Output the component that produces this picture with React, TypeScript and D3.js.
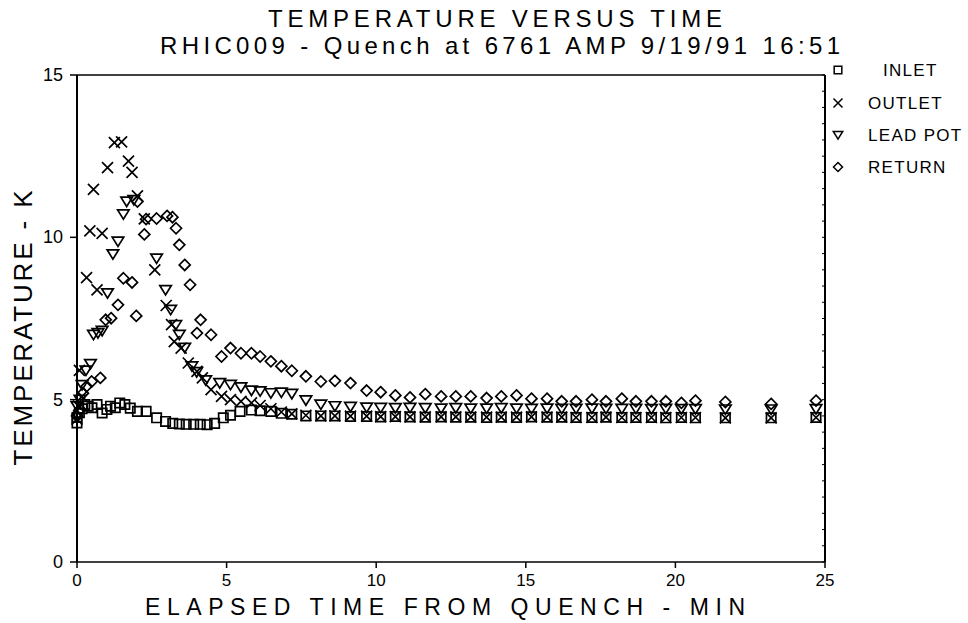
import React from "react";
import * as d3 from "d3";

// ---------- data (time in minutes, temperature in K) ----------
const inletTime = [0.0, 0.0, 0.08, 0.17, 0.26, 0.37, 0.5, 0.67, 0.84, 1.0, 1.12, 1.28, 1.43, 1.6, 1.78, 2.02, 2.31, 2.66, 2.96, 3.2, 3.42, 3.65, 3.9, 4.12, 4.35, 4.6, 4.89, 5.13, 5.45,
  5.83, 6.12, 6.48, 6.83, 7.18, 7.65, 8.15, 8.62, 9.14, 9.68, 10.15, 10.64, 11.13, 11.64, 12.17, 12.66, 13.16, 13.69, 14.18, 14.69, 15.19, 15.71, 16.2, 16.68, 17.21, 17.68, 18.21, 18.68, 19.2, 19.68, 20.2, 20.67, 21.67, 23.2, 24.7];
const inletTemp = [4.28, 4.45, 4.6, 4.72, 4.85, 4.8, 4.75, 4.85, 4.59, 4.7, 4.8, 4.75, 4.9, 4.85, 4.74, 4.64, 4.64, 4.44, 4.33, 4.27, 4.25, 4.24, 4.24, 4.24, 4.23, 4.27, 4.44, 4.52, 4.64,
  4.68, 4.66, 4.64, 4.58, 4.55, 4.5, 4.5, 4.5, 4.48, 4.48, 4.47, 4.48, 4.47, 4.46, 4.47, 4.46, 4.46, 4.45, 4.46, 4.45, 4.47, 4.46, 4.46, 4.45, 4.45, 4.46, 4.45, 4.45, 4.45, 4.44, 4.45, 4.44, 4.44, 4.44, 4.45];

const outletTime = [0.0, 0.05, 0.08, 0.17, 0.32, 0.43, 0.55, 0.67, 0.84, 1.02, 1.25, 1.49, 1.72, 1.84, 2.02, 2.25, 2.6, 2.98, 3.16, 3.25, 3.48, 3.72, 4.01, 4.19, 4.48, 4.83, 5.13, 5.48,
  5.83, 6.12, 6.48, 6.83, 7.18, 7.65, 8.15, 8.62, 9.14, 9.68, 10.15, 10.64, 11.13, 11.64, 12.17, 12.66, 13.16, 13.69, 14.18, 14.69, 15.19, 15.71, 16.2, 16.68, 17.21, 17.68, 18.21, 18.68, 19.2, 19.68, 20.2, 20.67, 21.67, 23.2, 24.7];
const outletTemp = [4.4, 4.8, 5.9, 5.1, 8.76, 10.2, 11.48, 8.38, 10.12, 12.15, 12.92, 12.94, 12.35, 12.0, 11.28, 10.57, 9.0, 7.9, 7.31, 6.79, 6.59, 6.13, 5.87, 5.67, 5.31, 5.1, 5.0, 4.95,
  4.9, 4.82, 4.72, 4.62, 4.56, 4.52, 4.5, 4.5, 4.49, 4.49, 4.48, 4.48, 4.47, 4.47, 4.47, 4.47, 4.46, 4.46, 4.46, 4.46, 4.47, 4.46, 4.46, 4.45, 4.45, 4.46, 4.45, 4.45, 4.45, 4.45, 4.45, 4.45, 4.44, 4.44, 4.45];

const leadTime = [0.0, 0.1, 0.17, 0.3, 0.45, 0.55, 0.7, 0.84, 1.02, 1.2, 1.37, 1.55, 1.66, 1.9, 2.66, 2.96, 3.13, 3.3, 3.42, 3.6, 3.84, 4.0, 4.3, 4.77, 5.13, 5.48,
  5.83, 6.12, 6.48, 6.83, 7.18, 7.65, 8.15, 8.62, 9.14, 9.68, 10.15, 10.64, 11.13, 11.64, 12.17, 12.66, 13.16, 13.69, 14.18, 14.69, 15.19, 15.71, 16.2, 16.68, 17.21, 17.68, 18.21, 18.68, 19.2, 19.68, 20.2, 20.67, 21.67, 23.2, 24.7];
const leadTemp = [4.8, 5.0, 5.45, 5.9, 6.1, 7.0, 7.05, 7.12, 8.28, 9.48, 9.87, 10.71, 11.1, 11.15, 9.35, 8.38, 7.77, 7.3, 7.0, 6.6, 6.03, 5.85, 5.6, 5.51, 5.46, 5.38,
  5.28, 5.26, 5.2, 5.22, 5.18, 4.98, 4.85, 4.8, 4.78, 4.76, 4.75, 4.74, 4.75, 4.74, 4.73, 4.74, 4.73, 4.73, 4.74, 4.73, 4.72, 4.73, 4.72, 4.72, 4.73, 4.72, 4.72, 4.72, 4.71, 4.72, 4.71, 4.71, 4.7, 4.7, 4.71];

const returnTime = [0.0, 0.1, 0.2, 0.32, 0.49, 0.78, 0.96, 1.14, 1.37, 1.55, 1.84, 1.98, 2.02, 2.25, 2.31, 2.66, 3.01, 3.19, 3.31, 3.42, 3.6, 3.78, 4.01, 4.13, 4.48, 4.83, 5.13, 5.48,
  5.83, 6.12, 6.48, 6.83, 7.18, 7.65, 8.15, 8.62, 9.14, 9.68, 10.15, 10.64, 11.13, 11.64, 12.17, 12.66, 13.16, 13.69, 14.18, 14.69, 15.19, 15.71, 16.2, 16.68, 17.21, 17.68, 18.21, 18.68, 19.2, 19.68, 20.2, 20.67, 21.67, 23.2, 24.7];
const returnTemp = [4.5, 4.7, 5.2, 5.41, 5.56, 5.67, 7.46, 7.51, 7.92, 8.74, 8.61, 7.58, 11.1, 10.09, 10.56, 10.58, 10.66, 10.62, 10.28, 9.77, 9.15, 8.54, 7.05, 7.46, 7.0, 6.33, 6.59, 6.43,
  6.43, 6.33, 6.18, 6.03, 5.89, 5.72, 5.56, 5.58, 5.51, 5.28, 5.23, 5.13, 5.07, 5.17, 5.1, 5.1, 5.1, 5.05, 5.1, 5.13, 5.03, 5.03, 4.95, 4.95, 5.0, 4.95, 5.03, 4.95, 4.95, 4.95, 4.9, 4.97, 4.93, 4.87, 4.97];

const xTicks = [0, 5, 10, 15, 20, 25];
const yTicks = [0, 5, 10, 15];
const legendLabels = ["INLET", "OUTLET", "LEAD POT", "RETURN"];

const titleText = "TEMPERATURE VERSUS TIME";
const subtitleText = "RHIC009 - Quench at 6761 AMP 9/19/91 16:51";
const xTitle = "ELAPSED TIME FROM QUENCH - MIN";
const yTitle = "TEMPERATURE - K";

// ---------- layout ----------
const W = 968;
const H = 623;
const left = 77, right = 825, top = 75, bottom = 562;
const FONT = "'Liberation Sans', Arial, sans-serif";

type Shape = "square" | "x" | "tri" | "diamond";

function markerPath(shape: Shape, s: number): string {
  const h = s / 2;
  switch (shape) {
    case "square":
      return `M${-h * 0.85},${-h * 0.85}H${h * 0.85}V${h * 0.85}H${-h * 0.85}Z`;
    case "x":
      return `M${-h},${-h}L${h},${h}M${-h},${h}L${h},${-h}`;
    case "tri":
      return `M${-h * 1.05},${-h * 0.8}H${h * 1.05}L0,${h * 0.9}Z`;
    case "diamond":
      return `M0,${-h}L${h},0L0,${h}L${-h},0Z`;
  }
}

export default function App() {
  const x = d3.scaleLinear().domain([0, 25]).range([left, right]);
  const y = d3.scaleLinear().domain([0, 15]).range([bottom, top]);

  const series: { shape: Shape; t: number[]; v: number[] }[] = [
    { shape: "square", t: inletTime, v: inletTemp },
    { shape: "x", t: outletTime, v: outletTemp },
    { shape: "tri", t: leadTime, v: leadTemp },
    { shape: "diamond", t: returnTime, v: returnTemp },
  ];
  const shapes: Shape[] = ["square", "x", "tri", "diamond"];
  const legendY = [70, 103, 135, 167];
  const legendX = [883, 868, 868, 868];

  const minorY = d3.range(0, 15.01, 0.5);

  return (
    <svg width={W} height={H} style={{ display: "block", position: "absolute", left: 0, top: 0, background: "#fff" }}>
      <rect x={0} y={0} width={W} height={H} fill="#fff" />
      {/* titles */}
      <text x={495} y={27} textAnchor="middle" fontFamily={FONT} fontSize={24} textLength={454} lengthAdjust="spacing">{titleText}</text>
      <text x={500} y={54} textAnchor="middle" fontFamily={FONT} fontSize={24} textLength={680} lengthAdjust="spacing">{subtitleText}</text>

      {/* frame */}
      <g stroke="#000" fill="none">
        <line x1={left} y1={top} x2={left} y2={bottom} strokeWidth={2} />
        <line x1={right} y1={top} x2={right} y2={bottom} strokeWidth={2} />
        <line x1={left} y1={top} x2={right} y2={top} strokeWidth={1.3} />
        <line x1={left} y1={bottom} x2={right} y2={bottom} strokeWidth={1.3} />
        {yTicks.map((v) => (
          <line key={"yt" + v} x1={left - 7} x2={left} y1={y(v)} y2={y(v)} strokeWidth={1.5} />
        ))}
        {xTicks.map((v) => (
          <line key={"xt" + v} x1={x(v)} x2={x(v)} y1={bottom} y2={bottom + 6} strokeWidth={1.5} />
        ))}
        {minorY.map((v) => (
          <line key={"my" + v} x1={right - 3} x2={right} y1={y(v)} y2={y(v)} strokeWidth={1} />
        ))}
      </g>

      {/* tick labels */}
      {yTicks.map((v) => (
        <text key={"yl" + v} x={63} y={y(v) + 6} textAnchor="end" fontFamily={FONT} fontSize={18}>{v}</text>
      ))}
      {xTicks.map((v) => (
        <text key={"xl" + v} x={x(v)} y={586} textAnchor="middle" fontFamily={FONT} fontSize={17}>{v}</text>
      ))}

      {/* axis titles */}
      <text x={445} y={615} textAnchor="middle" fontFamily={FONT} fontSize={23} textLength={600} lengthAdjust="spacing">{xTitle}</text>
      <text transform={`translate(32,328) rotate(-90)`} textAnchor="middle" fontFamily={FONT} fontSize={26} textLength={275} lengthAdjust="spacing">{yTitle}</text>

      {/* data markers */}
      <g stroke="#000" strokeWidth={1.7} fill="none">
        {series.map((s, si) =>
          s.t.map((t, i) => (
            <path key={si + "-" + i} d={markerPath(s.shape, 11)} transform={`translate(${x(t)},${y(s.v[i])})`} />
          ))
        )}
      </g>

      {/* legend */}
      {legendLabels.map((lab, i) => (
        <g key={lab}>
          <path d={markerPath(shapes[i], 9)} transform={`translate(838,${legendY[i]})`} stroke="#000" strokeWidth={1.5} fill="none" />
          <text x={legendX[i]} y={legendY[i] + 6} fontFamily={FONT} fontSize={17} letterSpacing={1.3}>{lab}</text>
        </g>
      ))}
    </svg>
  );
}
